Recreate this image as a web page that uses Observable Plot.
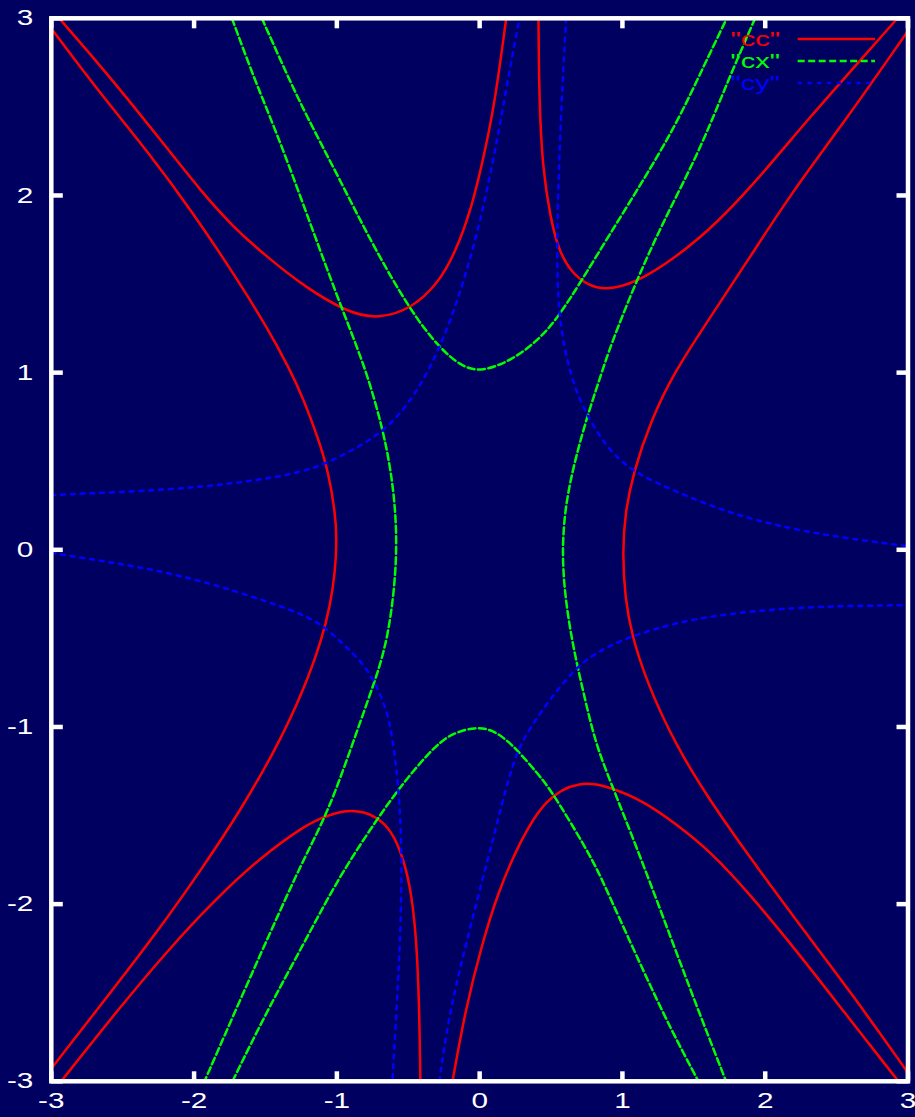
<!DOCTYPE html>
<html>
<head>
<meta charset="utf-8">
<script src="https://cdn.jsdelivr.net/npm/d3@7"></script>
<script src="https://cdn.jsdelivr.net/npm/@observablehq/plot@0.6"></script>
<style>
html, body { margin: 0; padding: 0; background: #000060; }
#chart { width: 915px; height: 1117px; overflow: hidden; }
</style>
</head>
<body>
<div id="chart"></div>
<script>
// ---- tick values ----
const xTicks = [-3, -2, -1, 0, 1, 2, 3];
const yTicks = [-3, -2, -1, 0, 1, 2, 3];

// ---- legend ----
const seriesNames = ['"cc"', '"cx"', '"cy"'];
const seriesColors = ["#ff0000", "#00ff00", "#0000ff"];

// ---- "cc" contour pieces (x, y) ----
const ccTopLeft = [[-2.945,3.0],[-2.587,2.668],[-2.216,2.295],[-1.957,2.029],[-1.726,1.821],[-1.488,1.652],[-1.222,1.482],[-0.928,1.341],[-0.711,1.301],[-0.473,1.363],[-0.291,1.504],[-0.172,1.674],[-0.053,1.934],[0.039,2.256],[0.109,2.538],[0.186,3.0]];
const ccLeft = [[-3.0,2.943],[-2.658,2.576],[-2.331,2.256],[-2.004,1.898],[-1.724,1.560],[-1.490,1.258],[-1.327,1.014],[-1.236,0.855],[-1.129,0.626],[-1.059,0.438],[-1.012,0.212],[-1.0,0.061],[-1.012,-0.127],[-1.047,-0.315],[-1.105,-0.504],[-1.222,-0.771],[-1.409,-1.098],[-1.677,-1.475],[-1.957,-1.814],[-2.237,-2.133],[-2.541,-2.453],[-3.0,-2.928]];
const ccTopRight = [[0.412,3.0],[0.417,2.538],[0.440,2.162],[0.494,1.879],[0.552,1.691],[0.646,1.560],[0.762,1.493],[0.879,1.465],[1.089,1.503],[1.381,1.653],[1.661,1.842],[1.964,2.105],[2.314,2.444],[2.688,2.783],[2.926,3.0]];
const ccRight = [[3.0,2.929],[2.548,2.407],[2.197,2.030],[1.894,1.653],[1.586,1.277],[1.362,1.002],[1.194,0.720],[1.077,0.438],[1.019,0.212],[1.0,-0.014],[1.019,-0.278],[1.066,-0.484],[1.171,-0.748],[1.369,-1.098],[1.614,-1.418],[1.894,-1.738],[2.221,-2.096],[2.594,-2.491],[2.992,-2.943]];
const ccBottomLeft = [[-2.931,-3.0],[-2.541,-2.604],[-2.190,-2.265],[-1.840,-1.964],[-1.537,-1.738],[-1.222,-1.555],[-1.082,-1.503],[-0.895,-1.461],[-0.720,-1.503],[-0.615,-1.588],[-0.534,-1.738],[-0.475,-1.945],[-0.440,-2.228],[-0.422,-2.604],[-0.415,-3.0]];
const ccBottomRight = [[-0.190,-3.0],[-0.102,-2.604],[0.015,-2.228],[0.132,-1.927],[0.272,-1.663],[0.459,-1.399],[0.704,-1.302],[0.914,-1.339],[1.147,-1.418],[1.381,-1.550],[1.614,-1.701],[1.894,-1.945],[2.221,-2.265],[2.548,-2.604],[2.933,-3.0]];

// ---- "cx" contour pieces ----
const cxTop = [[-1.525,3.0],[-1.374,2.726],[-1.222,2.463],[-0.989,2.105],[-0.755,1.729],[-0.487,1.352],[-0.289,1.145],[-0.125,1.032],[0.015,1.004],[0.225,1.070],[0.412,1.183],[0.552,1.315],[0.716,1.522],[0.914,1.785],[1.147,2.086],[1.381,2.407],[1.567,2.726],[1.731,3.0]];
const cxLeft = [[-1.735,3.0],[-1.584,2.670],[-1.420,2.350],[-1.250,1.983],[-1.075,1.597],[-0.942,1.315],[-0.790,1.002],[-0.685,0.701],[-0.627,0.475],[-0.592,0.250],[-0.580,0.024],[-0.597,-0.221],[-0.639,-0.466],[-0.697,-0.654],[-0.779,-0.842],[-0.889,-1.093],[-1.059,-1.475],[-1.222,-1.728],[-1.400,-2.040],[-1.661,-2.510],[-1.927,-3.0]];
const cxRight = [[1.929,3.0],[1.740,2.650],[1.540,2.250],[1.290,1.860],[1.089,1.503],[0.914,1.145],[0.856,1.002],[0.762,0.776],[0.669,0.513],[0.599,0.250],[0.576,-0.014],[0.599,-0.278],[0.657,-0.560],[0.727,-0.805],[0.809,-1.087],[0.914,-1.305],[1.101,-1.682],[1.287,-2.077],[1.497,-2.529],[1.726,-3.0]];
const cxBottom = [[-1.731,-3.0],[-1.490,-2.604],[-1.222,-2.209],[-0.989,-1.851],[-0.720,-1.522],[-0.545,-1.324],[-0.300,-1.093],[-0.172,-1.030],[-0.032,-1.002],[0.085,-1.012],[0.225,-1.093],[0.412,-1.268],[0.494,-1.352],[0.646,-1.550],[0.809,-1.776],[0.914,-1.964],[1.147,-2.378],[1.334,-2.698],[1.532,-3.0]];

// ---- "cy" contour pieces ----
const cyTopLeft = [[-3.0,0.309],[-2.424,0.329],[-1.957,0.353],[-1.537,0.394],[-1.222,0.443],[-1.059,0.494],[-0.872,0.569],[-0.685,0.663],[-0.522,0.795],[-0.359,1.002],[-0.218,1.258],[-0.078,1.597],[0.039,1.973],[0.132,2.350],[0.214,2.726],[0.279,3.0]];
const cyTopRight = [[0.606,3.0],[0.587,2.726],[0.564,2.350],[0.548,1.973],[0.541,1.691],[0.548,1.409],[0.576,1.221],[0.627,1.008],[0.716,0.814],[0.809,0.682],[0.914,0.556],[1.077,0.438],[1.381,0.325],[1.731,0.212],[2.081,0.137],[2.431,0.080],[3.0,0.020]];
const cyBottomLeft = [[-3.0,-0.018],[-2.658,-0.061],[-2.307,-0.108],[-1.957,-0.174],[-1.607,-0.259],[-1.222,-0.367],[-1.082,-0.438],[-0.942,-0.541],[-0.802,-0.654],[-0.709,-0.786],[-0.639,-0.936],[-0.606,-1.093],[-0.569,-1.324],[-0.545,-1.663],[-0.550,-2.040],[-0.569,-2.416],[-0.611,-3.0]];
const cyBottomRight = [[-0.282,-3.0],[-0.218,-2.641],[-0.125,-2.322],[-0.008,-1.945],[0.109,-1.588],[0.202,-1.286],[0.284,-1.093],[0.412,-0.936],[0.529,-0.805],[0.669,-0.673],[0.786,-0.597],[0.914,-0.541],[1.077,-0.484],[1.381,-0.409],[1.731,-0.362],[2.081,-0.334],[2.431,-0.319],[3.0,-0.312]];

// ---- build table ----
const pieces = [
  ["cc","ccTopLeft",ccTopLeft],["cc","ccLeft",ccLeft],["cc","ccTopRight",ccTopRight],
  ["cc","ccRight",ccRight],["cc","ccBottomLeft",ccBottomLeft],["cc","ccBottomRight",ccBottomRight],
  ["cx","cxTop",cxTop],["cx","cxLeft",cxLeft],["cx","cxRight",cxRight],["cx","cxBottom",cxBottom],
  ["cy","cyTopLeft",cyTopLeft],["cy","cyTopRight",cyTopRight],["cy","cyBottomLeft",cyBottomLeft],["cy","cyBottomRight",cyBottomRight]
];
const rows = pieces.flatMap(([series, curve, pts]) => pts.map(([x, y]) => ({series, curve, x, y})));
const of = s => rows.filter(d => d.series === s);

const FONT = "'Liberation Sans', Arial, Helvetica, sans-serif";
const STRETCH = 1.35;
const DASH_CX = "7,3.5";
const DASH_CY = "4,5.8";

const plot = Plot.plot({
  width: 915,
  height: 1117,
  marginLeft: 50.8,
  marginRight: 7.5,
  marginTop: 17.8,
  marginBottom: 36.2,
  style: {background: "#000060", color: "white", fontFamily: FONT, fontSize: "22px"},
  x: {domain: [-3, 3]},
  y: {domain: [-3, 3]},
  marks: [
    Plot.line(of("cc"), {x: "x", y: "y", z: "curve", stroke: seriesColors[0], strokeWidth: 2.5, curve: "basis", clip: true}),
    Plot.line(of("cx"), {x: "x", y: "y", z: "curve", stroke: seriesColors[1], strokeWidth: 2.5, strokeDasharray: DASH_CX, curve: "basis", clip: true}),
    Plot.line(of("cy"), {x: "x", y: "y", z: "curve", stroke: seriesColors[2], strokeWidth: 2.5, strokeDasharray: DASH_CY, curve: "basis", clip: true}),
    Plot.frame({stroke: "white", strokeWidth: 4.5}),
    // inward ticks on all four sides
    Plot.axisX(xTicks, {anchor: "bottom", tickSize: -9.5, strokeWidth: 4.5, stroke: "white", tickFormat: () => "", label: null}),
    Plot.axisX(xTicks, {anchor: "top", tickSize: -9.5, strokeWidth: 4.5, stroke: "white", tickFormat: () => "", label: null}),
    Plot.axisY(yTicks, {anchor: "left", tickSize: -12, strokeWidth: 4.5, stroke: "white", tickFormat: () => "", label: null}),
    Plot.axisY(yTicks, {anchor: "right", tickSize: -12, strokeWidth: 4.5, stroke: "white", tickFormat: () => "", label: null}),
    // tick labels
    Plot.axisX(xTicks, {anchor: "bottom", tickSize: 0, tickPadding: 11, fill: "white", fontSize: 22, tickFormat: d => String(d), label: null}),
    Plot.axisY(yTicks, {anchor: "left", tickSize: 0, tickPadding: 18, fill: "white", fontSize: 22, tickFormat: d => String(d), label: null})
  ]
});

document.getElementById("chart").appendChild(plot);

// widen tick label glyphs like the reference
d3.select(plot).selectAll("g[aria-label$='tick label'] text").each(function() {
  const t = this.getAttribute("transform") || "";
  const x = +this.getAttribute("x") || 0;
  this.setAttribute("transform", `${t} translate(${x},0) scale(${STRETCH},1) translate(${-x},0)`);
});

// legend in the top-right corner
const svg = d3.select(plot);
const leg = svg.append("g").attr("class", "legend").attr("font-family", FONT).attr("font-size", 20);
const dashes = [null, DASH_CX, DASH_CY];
seriesNames.forEach((name, i) => {
  const ly = 39 + i * 22;
  leg.append("text")
    .attr("text-anchor", "end")
    .attr("fill", seriesColors[i])
    .attr("transform", `translate(780,${ly + 7}) scale(1.45,1)`)
    .text(name);
  leg.append("line")
    .attr("x1", 797.7).attr("x2", 875)
    .attr("y1", ly).attr("y2", ly)
    .attr("stroke", seriesColors[i])
    .attr("stroke-width", 2.5)
    .attr("stroke-dasharray", dashes[i]);
});
</script>
</body>
</html>
